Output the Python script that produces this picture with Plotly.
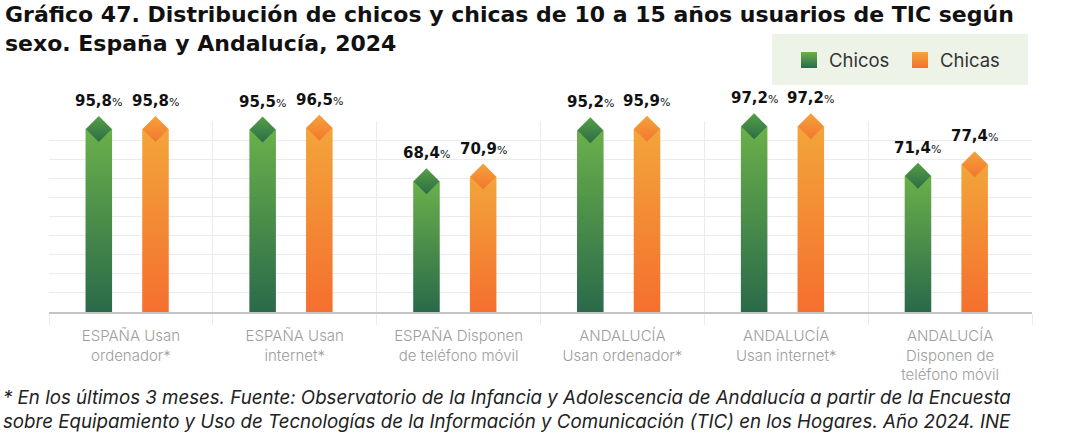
import plotly.graph_objects as go

# ===== data =====
CATEGORIES = ["ESPAÑA Usan<br>ordenador*",
              "ESPAÑA Usan<br>internet*",
              "ESPAÑA Disponen<br>de teléfono móvil",
              "ANDALUCÍA<br>Usan ordenador*",
              "ANDALUCÍA<br>Usan internet*",
              "ANDALUCÍA<br>Disponen de<br>teléfono móvil"]
CHICOS = [95.8, 95.5, 68.4, 95.2, 97.2, 71.4]
CHICAS = [95.8, 96.5, 70.9, 95.9, 97.2, 77.4]
SERIES = ["Chicos", "Chicas"]

TITLE = ("<b>Gráfico 47. Distribución de chicos y chicas de 10 a 15 años usuarios de TIC según<br>"
         "sexo. España y Andalucía, 2024</b>")
NOTE = ("<i>* En los últimos 3 meses. Fuente: Observatorio de la Infancia y Adolescencia de "
        "Andalucía a partir de la Encuesta<br>sobre Equipamiento y Uso de Tecnologías de la "
        "Información y Comunicación (TIC) en los Hogares. Año 2024. INE</i>")

# ===== style =====
W, H = 1080, 433
ML, MR, MT, MB = 49, 48, 121, 121
PW, PH = W - ML - MR, H - MT - MB
FONT = "Inter, sans-serif"
BOLD = "DejaVu Sans, sans-serif"
INK = "#111111"
GREEN_TOP, GREEN_BOT = "#6ab04a", "#2a6a4a"
GREEN_DIA_TOP, GREEN_DIA_BOT = "#55a047", "#2c6c46"
ORANGE_TOP, ORANGE_BOT = "#f2a53a", "#f56f2e"
ORANGE_DIA_TOP, ORANGE_DIA_BOT = "#f4a33b", "#f3762e"
GRID = "#ebebeb"
BAR_W = 0.162                 # bar width, in category units
OFFSETS = [-0.196, 0.150]     # bar centre offsets from category centre


def px_x(px):
    """pixel column -> paper x"""
    return (px - ML) / PW


def px_y(py):
    """pixel row -> paper y"""
    return 1 + (MT - py) / PH


fig = go.Figure()

styles = [(CHICOS, GREEN_TOP, GREEN_BOT, GREEN_DIA_TOP, GREEN_DIA_BOT),
          (CHICAS, ORANGE_TOP, ORANGE_BOT, ORANGE_DIA_TOP, ORANGE_DIA_BOT)]

for s, (vals, top, bot, dtop, dbot) in enumerate(styles):
    xs = [i + OFFSETS[s] for i in range(len(vals))]
    # gradient bars: one filled polygon per bar so each gets its own gradient
    for x, v in zip(xs, vals):
        x0, x1 = x - BAR_W / 2, x + BAR_W / 2
        fig.add_trace(go.Scatter(
            x=[x0, x1, x1, x0, x0], y=[0, 0, v, v, 0],
            mode="lines", fill="toself", line=dict(width=0),
            fillgradient=dict(type="vertical",
                              colorscale=[[0, bot], [1, top]]),
            hoverinfo="skip", showlegend=False))
    # diamond caps at the top of each bar
    fig.add_trace(go.Scatter(
        x=xs, y=vals, mode="markers",
        marker=dict(symbol="diamond", size=20, color=dtop,
                    gradient=dict(type="vertical", color=dbot),
                    line=dict(width=0)),
        cliponaxis=False, hoverinfo="skip", showlegend=False))
    # value labels
    for x, v in zip(xs, vals):
        num = f"{v:.1f}".replace(".", ",")
        fig.add_annotation(
            x=x, y=v, yshift=17, yanchor="bottom", showarrow=False,
            text=f"<b>{num}</b><span style='font-size:11px'>%</span>",
            font=dict(size=15, color=INK, family=BOLD))

# legend entries
for name, top, bot in [(SERIES[0], GREEN_TOP, GREEN_BOT),
                       (SERIES[1], ORANGE_TOP, ORANGE_BOT)]:
    fig.add_trace(go.Scatter(
        x=[None], y=[None], mode="markers", name=name,
        marker=dict(symbol="square", size=16, color=top,
                    gradient=dict(type="vertical", color=bot))))

# legend background panel
fig.add_shape(type="rect", xref="paper", yref="paper",
              x0=px_x(772), x1=px_x(1028), y0=px_y(85), y1=px_y(34),
              fillcolor="#eef3e8", line_width=0, layer="below")

n = len(CATEGORIES)
fig.update_layout(
    width=W, height=H,
    paper_bgcolor="white", plot_bgcolor="white",
    font=dict(family=FONT, color=INK),
    margin=dict(l=ML, r=MR, t=MT, b=MB, autoexpand=False),
    xaxis=dict(range=[-0.5, n - 0.5], tickvals=list(range(n)),
               ticktext=CATEGORIES, ticks="", showgrid=False,
               showline=True, linecolor="#c4c4c4", linewidth=2,
               zeroline=False, ticklabelstandoff=9,
               tickfont=dict(size=15, color="#9d9d9d", family=FONT, weight=300),
               minor=dict(tickvals=[i - 0.5 for i in range(n + 1)],
                          ticks="outside", ticklen=11, tickcolor=GRID,
                          showgrid=True, gridcolor=GRID, gridwidth=1)),
    yaxis=dict(range=[0, 100], dtick=10, showticklabels=False,
               showgrid=True, gridcolor=GRID, gridwidth=1,
               zeroline=False, ticks=""),
    legend=dict(orientation="h", x=px_x(789), xanchor="left",
                y=px_y(60.5), yanchor="middle", bgcolor="rgba(0,0,0,0)",
                entrywidth=66,
                font=dict(size=18.5, color="#333333", family=FONT),
                borderwidth=0),
    showlegend=True,
)

# title
fig.add_annotation(
    text=TITLE, xref="paper", yref="paper", x=px_x(3), y=px_y(0),
    xanchor="left", yanchor="top", align="left", showarrow=False,
    font=dict(size=22, color=INK, family=BOLD))

# footnote
fig.add_annotation(
    text=NOTE, xref="paper", yref="paper", x=px_x(1), y=px_y(384),
    xanchor="left", yanchor="top", align="left", showarrow=False,
    font=dict(size=18.7, color="#222222", family=FONT))

# the page's default 8px body margin would shift the figure inside the window
fig.write_html("out.html", config={"displayModeBar": False},
               post_script="document.body.style.margin='0';")
